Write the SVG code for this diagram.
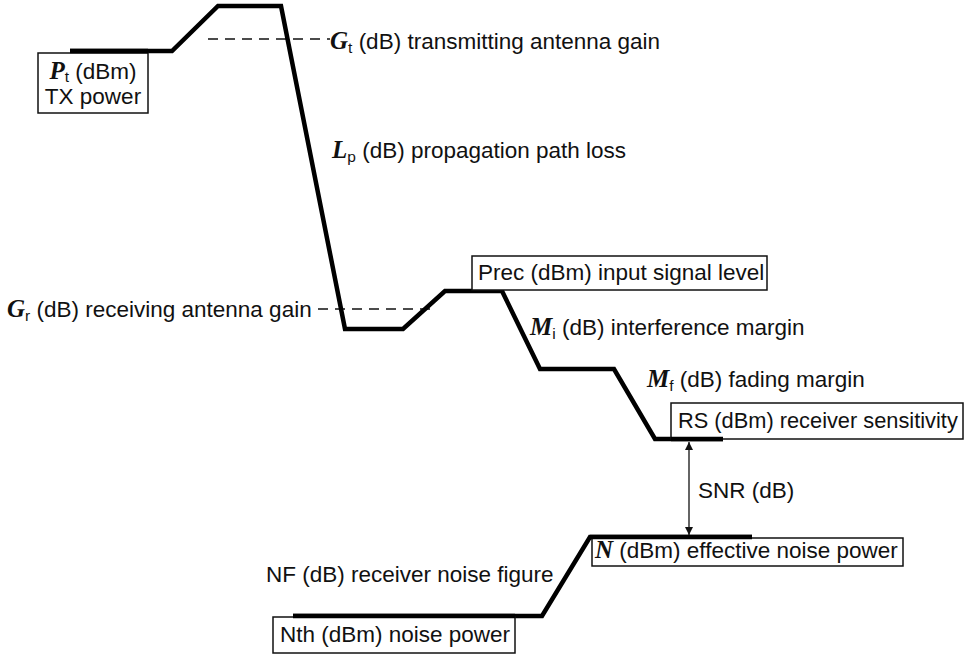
<svg xmlns="http://www.w3.org/2000/svg" width="966" height="658" viewBox="0 0 966 658">
<defs>
<style>
.t{font-family:"Liberation Sans",Arial,sans-serif;font-size:22.5px;fill:#111}
.v{font-family:"Liberation Serif","Times New Roman",serif;font-style:italic;font-weight:bold;font-size:25px}
.s{font-size:15.5px}
.box{fill:#fff;stroke:#111;stroke-width:1.5}
.thick{fill:none;stroke:#000;stroke-width:4.5;stroke-linejoin:miter}
.dash{fill:none;stroke:#111;stroke-width:1.5;stroke-dasharray:10 7}
</style>
<marker id="ah" viewBox="0 0 10 10" refX="10" refY="5" markerWidth="8" markerHeight="10" markerUnits="userSpaceOnUse" orient="auto-start-reverse">
<path d="M0,0 L10,5 L0,10 z" fill="#111"/>
</marker>
</defs>
<rect width="966" height="658" fill="#fff"/>

<g id="connectors">
<path class="dash" d="M208,39 H330"/>
<path class="dash" d="M318,309 H434"/>
<path class="thick" d="M70,51 L172,51 L218,6 L281,6 L345,329 L403,329 L445,291 L502,291 L540,369 L614,369 L655,439 L723,439"/>
<path class="thick" d="M293,616 L542,616 L590,537 L752,537"/>
<line x1="689" y1="442" x2="689" y2="535" stroke="#111" stroke-width="1.3" marker-start="url(#ah)" marker-end="url(#ah)"/>
</g>

<g id="pt">
<rect class="box" x="38" y="53" width="110" height="60"/>
<path class="thick" d="M70,51 H148"/>
<text class="t" x="93" y="79" text-anchor="middle"><tspan class="v">P</tspan><tspan class="s" dy="3">t</tspan><tspan dy="-3"> (dBm)</tspan></text>
<text class="t" x="93" y="104" text-anchor="middle">TX power</text>
</g>

<g id="gt">
<text class="t" x="330" y="49"><tspan class="v">G</tspan><tspan class="s" dy="4">t</tspan><tspan dy="-4"> (dB) transmitting antenna gain</tspan></text>
</g>

<g id="lp">
<text class="t" x="332" y="158"><tspan class="v">L</tspan><tspan class="s" dy="4">p</tspan><tspan dy="-4"> (dB) propagation path loss</tspan></text>
</g>

<g id="gr">
<text class="t" x="7" y="317"><tspan class="v">G</tspan><tspan class="s" dy="4">r</tspan><tspan dy="-4"> (dB) receiving antenna gain</tspan></text>
</g>

<g id="prec">
<rect class="box" x="472" y="256" width="295" height="34"/>
<text class="t" x="478" y="280">Prec (dBm) input signal level</text>
</g>

<g id="mi">
<text class="t" x="530" y="335"><tspan class="v">M</tspan><tspan class="s" dy="4">i</tspan><tspan dy="-4"> (dB) interference margin</tspan></text>
</g>

<g id="mf">
<text class="t" x="647" y="387"><tspan class="v">M</tspan><tspan class="s" dy="4">f</tspan><tspan dy="-4"> (dB) fading margin</tspan></text>
</g>

<g id="rs">
<rect class="box" x="671" y="403" width="292" height="36"/>
<path class="thick" d="M671,439 H723"/>
<text class="t" x="678" y="428" style="font-size:21.8px">RS (dBm) receiver sensitivity</text>
</g>

<g id="snr">
<text class="t" x="698" y="498">SNR (dB)</text>
</g>

<g id="n">
<rect class="box" x="592" y="538" width="311" height="28"/>
<path class="thick" d="M590,537 H752"/>
<text class="t" x="595" y="558"><tspan class="v">N</tspan> (dBm) effective noise power</text>
</g>

<g id="nf">
<text class="t" x="266" y="582">NF (dB) receiver noise figure</text>
</g>

<g id="nth">
<rect class="box" x="273" y="617" width="242" height="36"/>
<path class="thick" d="M293,616 H515"/>
<text class="t" x="280" y="642">Nth (dBm) noise power</text>
</g>
</svg>
